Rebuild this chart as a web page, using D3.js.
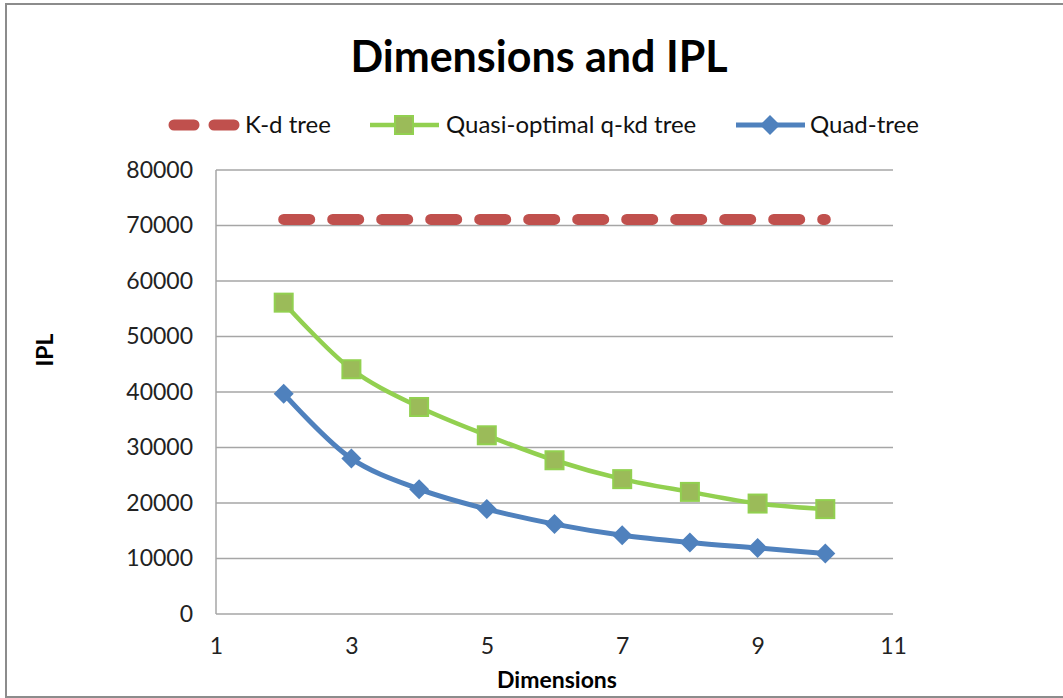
<!DOCTYPE html>
<html>
<head>
<meta charset="utf-8">
<script src="https://cdn.jsdelivr.net/npm/d3@7"></script>
<style>
  body { margin: 0; background: #fff; }
  text { font-family: Lato, "Open Sans", sans-serif; }
</style>
</head>
<body>
<div id="chart"></div>
<script>
// values
const dimensions = [2, 3, 4, 5, 6, 7, 8, 9, 10];
const kdTree = [71100, 71100, 71100, 71100, 71100, 71100, 71100, 71100, 71100];
const quasiOptimal = [56100, 44100, 37300, 32200, 27700, 24300, 22000, 19900, 18900];
const quadTree = [39700, 28000, 22500, 18900, 16200, 14200, 12900, 11900, 10900];
const xTicks = [1, 3, 5, 7, 9, 11];
const yTicks = [0, 10000, 20000, 30000, 40000, 50000, 60000, 70000, 80000];
const seriesNames = ["K-d tree", "Quasi-optimal q-kd tree", "Quad-tree"];

const width = 1063, height = 698;
const margin = { top: 170, right: 170, bottom: 84, left: 216 };

const svg = d3.select("#chart").append("svg")
    .attr("width", width)
    .attr("height", height);

// outer frame
svg.append("rect")
    .attr("x", 6).attr("y", 4)
    .attr("width", width + 10).attr("height", height - 5)
    .attr("fill", "none")
    .attr("stroke", "#8c8c8c")
    .attr("stroke-width", 2);

const x = d3.scaleLinear().domain([1, 11]).range([margin.left, width - margin.right]);
const y = d3.scaleLinear().domain([0, 80000]).range([height - margin.bottom, margin.top]);

// gridlines
svg.append("g").selectAll("line")
    .data(yTicks)
    .enter().append("line")
    .attr("x1", x(1)).attr("x2", x(11))
    .attr("y1", d => y(d)).attr("y2", d => y(d))
    .attr("stroke", "#a6a6a6")
    .attr("stroke-width", 1.5);

// y axis line
svg.append("line")
    .attr("x1", x(1)).attr("x2", x(1))
    .attr("y1", y(0)).attr("y2", y(80000))
    .attr("stroke", "#a6a6a6")
    .attr("stroke-width", 1.5);

// y tick labels
const yAxis = d3.axisLeft(y).tickValues(yTicks).tickSize(0).tickPadding(23).tickFormat(d3.format("d"));
const yg = svg.append("g").attr("transform", `translate(${x(1)},0)`).call(yAxis);
yg.select(".domain").remove();
yg.selectAll("text").attr("font-size", 23).attr("fill", "#222").attr("font-family", "Lato");

// x tick labels
const xAxis = d3.axisBottom(x).tickValues(xTicks).tickSize(0).tickPadding(24);
const xg = svg.append("g").attr("transform", `translate(0,${y(0)})`).call(xAxis);
xg.select(".domain").remove();
xg.selectAll("text").attr("font-size", 23).attr("fill", "#222").attr("font-family", "Lato");

// K-d tree dashed line
const line = d3.line().x((d, i) => x(dimensions[i])).y(d => y(d));
const smooth = d3.line().x((d, i) => x(dimensions[i])).y(d => y(d)).curve(d3.curveCatmullRom);

svg.append("path")
    .datum(kdTree)
    .attr("d", line)
    .attr("fill", "none")
    .attr("stroke", "#c0504d")
    .attr("stroke-width", 11)
    .attr("stroke-linecap", "round")
    .attr("stroke-dasharray", "26,23");

// quasi-optimal line + squares
svg.append("path")
    .datum(quasiOptimal)
    .attr("d", smooth)
    .attr("fill", "none")
    .attr("stroke", "#92d050")
    .attr("stroke-width", 4.5);

svg.append("g").selectAll("rect")
    .data(quasiOptimal)
    .enter().append("rect")
    .attr("x", (d, i) => x(dimensions[i]) - 9)
    .attr("y", d => y(d) - 9)
    .attr("width", 18).attr("height", 18)
    .attr("fill", "#9bbb59")
    .attr("stroke", "#92d050")
    .attr("stroke-width", 2);

// quad-tree line + diamonds
svg.append("path")
    .datum(quadTree)
    .attr("d", smooth)
    .attr("fill", "none")
    .attr("stroke", "#4f81bd")
    .attr("stroke-width", 5);

const diamond = "M0,-10L10,0L0,10L-10,0Z";
svg.append("g").selectAll("path")
    .data(quadTree)
    .enter().append("path")
    .attr("d", diamond)
    .attr("transform", (d, i) => `translate(${x(dimensions[i])},${y(d)})`)
    .attr("fill", "#4f81bd");

// title
svg.append("text")
    .attr("x", 539).attr("y", 72)
    .attr("text-anchor", "middle")
    .attr("font-size", 43)
    .attr("font-weight", "bold")
    .attr("fill", "#000")
    .text("Dimensions and IPL");

// axis titles
svg.append("text")
    .attr("x", 557).attr("y", 688)
    .attr("text-anchor", "middle")
    .attr("font-size", 23)
    .attr("font-weight", "bold")
    .text("Dimensions");

svg.append("text")
    .attr("transform", "translate(53,350) rotate(-90)")
    .attr("text-anchor", "middle")
    .attr("font-size", 23)
    .attr("font-weight", "bold")
    .text("IPL");

// legend
const legendY = 125;
const legend = svg.append("g");

legend.append("line")
    .attr("x1", 174).attr("x2", 234)
    .attr("y1", legendY).attr("y2", legendY)
    .attr("stroke", "#c0504d")
    .attr("stroke-width", 11)
    .attr("stroke-linecap", "round")
    .attr("stroke-dasharray", "20,20");

legend.append("line")
    .attr("x1", 370).attr("x2", 439)
    .attr("y1", legendY).attr("y2", legendY)
    .attr("stroke", "#92d050").attr("stroke-width", 4.5);
legend.append("rect")
    .attr("x", 404 - 9).attr("y", legendY - 9)
    .attr("width", 18).attr("height", 18)
    .attr("fill", "#9bbb59").attr("stroke", "#92d050").attr("stroke-width", 2);

legend.append("line")
    .attr("x1", 736).attr("x2", 805)
    .attr("y1", legendY).attr("y2", legendY)
    .attr("stroke", "#4f81bd").attr("stroke-width", 5);
legend.append("path")
    .attr("d", diamond)
    .attr("transform", `translate(770,${legendY})`)
    .attr("fill", "#4f81bd");

const legendTextX = [245, 446, 810];
legend.selectAll("text.leg")
    .data(seriesNames)
    .enter().append("text")
    .attr("class", "leg")
    .attr("x", (d, i) => legendTextX[i])
    .attr("y", legendY + 8)
    .attr("font-size", 24)
    .attr("fill", "#111")
    .text(d => d);
</script>
</body>
</html>
